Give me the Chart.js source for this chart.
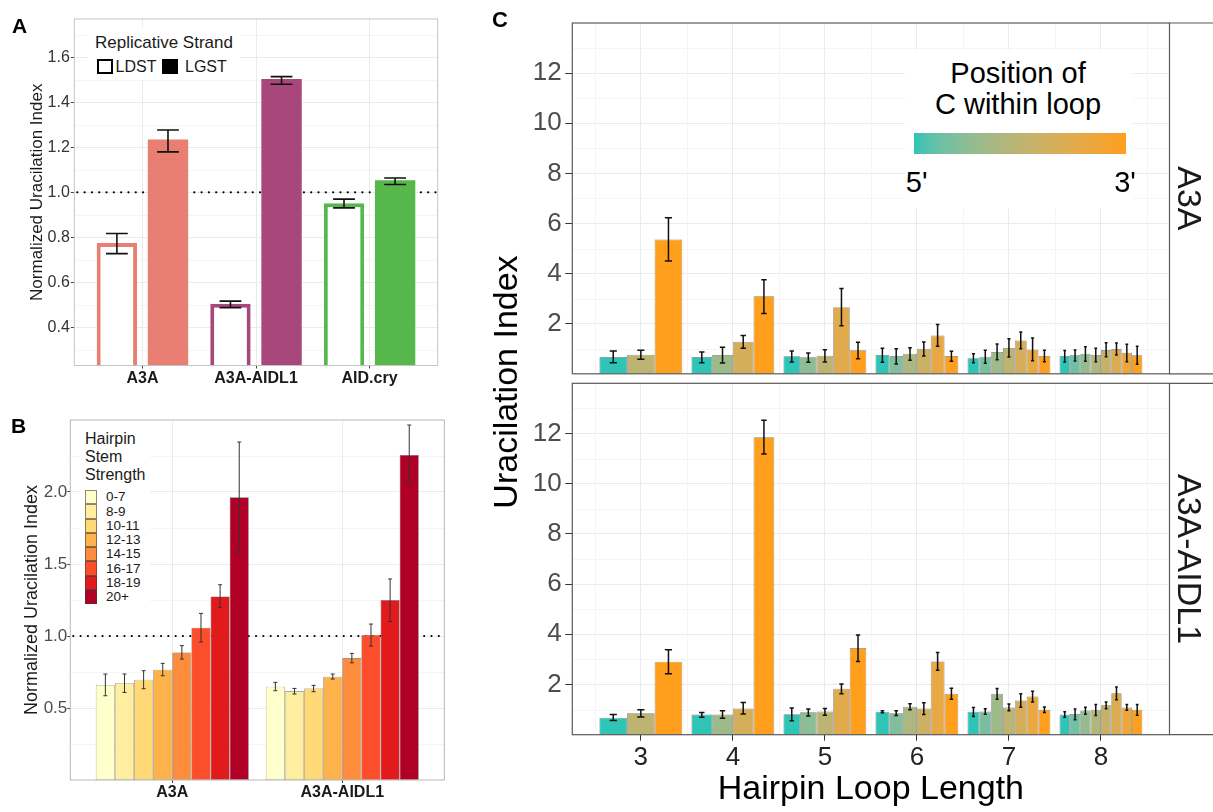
<!DOCTYPE html>
<html>
<head>
<meta charset="utf-8">
<title>Uracilation index figure</title>
<script src="https://cdn.jsdelivr.net/npm/chart.js@4.4.1/dist/chart.umd.min.js"></script>
<style>
  html, body { margin:0; padding:0; background:#ffffff; }
  body { width:1213px; height:812px; position:relative; overflow:hidden; font-family:"Liberation Sans", Arial, Helvetica, sans-serif; }
  canvas { position:absolute; }
  .t { position:absolute; white-space:nowrap; line-height:1; }
  .box { position:absolute; box-sizing:border-box; }
</style>
</head>
<body>
<canvas id="chartA" width="450" height="400" style="left:0px;top:0px"></canvas>
<canvas id="chartB" width="450" height="412" style="left:0px;top:400px"></canvas>
<canvas id="chartC1" width="733" height="380" style="left:480px;top:0px"></canvas>
<canvas id="chartC2" width="733" height="432" style="left:480px;top:380px"></canvas>
<script>
// ---------------- DATA ----------------
// Panel A
const aCategories = ['A3A', 'A3A-AIDL1', 'AID.cry'];
const aStrands = ['LDST', 'LGST'];
const aLdst = [0.775, 0.505, 0.952];
const aLdstLow = [0.728, 0.488, 0.931];
const aLdstHigh = [0.817, 0.517, 0.970];
const aLgst = [1.235, 1.503, 1.054];
const aLgstLow = [1.180, 1.480, 1.035];
const aLgstHigh = [1.277, 1.514, 1.064];
const aColors = ['#E87F72', '#A8477C', '#56B84B'];
const aYTicks = [0.4, 0.6, 0.8, 1.0, 1.2, 1.4, 1.6];
const aYMinor = [0.3, 0.5, 0.7, 0.9, 1.1, 1.3, 1.5, 1.7];

// Panel B
const bCategories = ['A3A', 'A3A-AIDL1'];
const bStrength = ['0-7', '8-9', '10-11', '12-13', '14-15', '16-17', '18-19', '20+'];
const bColors = ['#FFFFCC', '#FFEDA0', '#FED976', '#FEB24C', '#FD8D3C', '#FC4E2A', '#E31A1C', '#B10026'];
const bA3A = [0.660, 0.674, 0.697, 0.766, 0.886, 1.058, 1.275, 1.963];
const bA3ALow = [0.585, 0.608, 0.634, 0.724, 0.840, 0.958, 1.199, 1.578];
const bA3AHigh = [0.736, 0.736, 0.759, 0.810, 0.933, 1.157, 1.356, 2.347];
const bAIDL1 = [0.648, 0.616, 0.636, 0.717, 0.847, 1.007, 1.250, 2.257];
const bAIDL1Low = [0.620, 0.597, 0.613, 0.701, 0.814, 0.930, 1.101, 2.056];
const bAIDL1High = [0.678, 0.636, 0.657, 0.736, 0.879, 1.083, 1.396, 2.465];
const bYTicks = [0.5, 1.0, 1.5, 2.0];
const bYMinor = [0.25, 0.75, 1.25, 1.75, 2.25];

// Panel C (one inner list per loop length, one value per C position 5'->3')
const cLoopLengths = [3, 4, 5, 6, 7, 8];
const cFacets = ['A3A', 'A3A-AIDL1'];
const cA3AMean = [
  [0.67, 0.76, 5.36],
  [0.67, 0.75, 1.28, 3.09],
  [0.70, 0.66, 0.72, 2.66, 0.94],
  [0.75, 0.71, 0.80, 1.00, 1.53, 0.71],
  [0.62, 0.68, 0.87, 1.03, 1.33, 0.97, 0.71],
  [0.71, 0.76, 0.80, 0.75, 0.95, 0.99, 0.84, 0.74]
];
const cA3ALow = [
  [0.445, 0.58, 4.50],
  [0.445, 0.43, 1.02, 2.41],
  [0.47, 0.46, 0.47, 1.92, 0.60],
  [0.46, 0.39, 0.54, 0.71, 1.10, 0.50],
  [0.445, 0.42, 0.565, 0.67, 1.00, 0.525, 0.485],
  [0.47, 0.51, 0.50, 0.485, 0.68, 0.75, 0.485, 0.38]
];
const cA3AHigh = [
  [0.91, 0.94, 6.23],
  [0.87, 1.06, 1.53, 3.75],
  [0.91, 0.83, 0.96, 3.40, 1.26],
  [1.02, 1.00, 1.04, 1.27, 1.97, 0.90],
  [0.80, 0.94, 1.19, 1.40, 1.67, 1.43, 0.94],
  [0.93, 0.95, 1.08, 1.02, 1.24, 1.23, 1.18, 1.10]
];
const cAIDL1Mean = [
  [0.67, 0.85, 2.91],
  [0.80, 0.80, 1.04, 11.85],
  [0.81, 0.89, 0.92, 1.83, 3.45],
  [0.91, 0.85, 1.11, 1.04, 2.92, 1.63],
  [0.91, 0.92, 1.63, 1.08, 1.36, 1.52, 0.99],
  [0.80, 0.82, 0.96, 0.99, 1.17, 1.65, 1.08, 0.99]
];
const cAIDL1Low = [
  [0.57, 0.71, 2.43],
  [0.70, 0.66, 0.82, 11.18],
  [0.56, 0.75, 0.77, 1.63, 2.92],
  [0.87, 0.76, 0.99, 0.80, 2.57, 1.41],
  [0.73, 0.81, 1.41, 0.95, 1.09, 1.30, 0.88],
  [0.70, 0.60, 0.81, 0.76, 1.03, 1.39, 0.97, 0.77]
];
const cAIDL1High = [
  [0.80, 0.99, 3.38],
  [0.88, 0.95, 1.28, 12.53],
  [1.06, 1.02, 1.04, 2.02, 3.97],
  [0.95, 0.95, 1.23, 1.27, 3.27, 1.85],
  [1.08, 1.03, 1.84, 1.22, 1.63, 1.73, 1.10],
  [0.91, 1.02, 1.09, 1.20, 1.30, 1.90, 1.20, 1.20]
];
const cYTicks = [2, 4, 6, 8, 10, 12];
const cYMinor = [1, 3, 5, 7, 9, 11, 13];
const cXMinor = [2.5, 3.5, 4.5, 5.5, 6.5, 7.5, 8.5];
const cLowColor = '#2EC4B6';
const cHighColor = '#FF9F1C';

// ---------------- HELPERS ----------------
const FONT = '"Liberation Sans", Arial, Helvetica, sans-serif';
Chart.defaults.font.family = FONT;
Chart.defaults.animation = false;
Chart.defaults.responsive = false;

function hexToRgb(h) { return [parseInt(h.slice(1, 3), 16), parseInt(h.slice(3, 5), 16), parseInt(h.slice(5, 7), 16)]; }
function toLin(c) { c /= 255; return c <= 0.04045 ? c / 12.92 : Math.pow((c + 0.055) / 1.055, 2.4); }
function fromLin(c) { const v = c <= 0.0031308 ? 12.92 * c : 1.055 * Math.pow(c, 1 / 2.4) - 0.055; return Math.max(0, Math.min(255, Math.round(v * 255))); }
function rgbToLab(rgb) {
  const [r, g, b] = rgb.map(toLin);
  const x = (0.4124564 * r + 0.3575761 * g + 0.1804375 * b) / 0.95047;
  const y = (0.2126729 * r + 0.7151522 * g + 0.0721750 * b);
  const z = (0.0193339 * r + 0.1191920 * g + 0.9503041 * b) / 1.08883;
  const f = t => t > 0.008856 ? Math.cbrt(t) : 7.787 * t + 16 / 116;
  const fx = f(x), fy = f(y), fz = f(z);
  return [116 * fy - 16, 500 * (fx - fy), 200 * (fy - fz)];
}
function labToRgb(lab) {
  const [L, a, b] = lab;
  const fy = (L + 16) / 116, fx = fy + a / 500, fz = fy - b / 200;
  const fi = t => { const t3 = t * t * t; return t3 > 0.008856 ? t3 : (t - 16 / 116) / 7.787; };
  const x = fi(fx) * 0.95047, y = fi(fy), z = fi(fz) * 1.08883;
  return [
    fromLin(3.2404542 * x - 1.5371385 * y - 0.4985314 * z),
    fromLin(-0.9692660 * x + 1.8760108 * y + 0.0415560 * z),
    fromLin(0.0556434 * x - 0.2040259 * y + 1.0572252 * z)
  ];
}
const labLow = rgbToLab(hexToRgb(cLowColor));
const labHigh = rgbToLab(hexToRgb(cHighColor));
function positionColor(t) {
  const lab = labLow.map((v, i) => v + (labHigh[i] - v) * t);
  const [r, g, b] = labToRgb(lab);
  return `rgb(${r},${g},${b})`;
}

function fixSize(size) {
  return (scale) => {
    if (scale.isHorizontal()) scale.height = size; else scale.width = size;
    scale.paddingLeft = 0; scale.paddingRight = 0; scale.paddingTop = 0; scale.paddingBottom = 0;
  };
}
function useTicks(values) { return (scale) => { scale.ticks = values.map(v => ({ value: v })); }; }

const panelDecor = {
  id: 'panelDecor',
  beforeDatasetsDraw(chart, args, o) {
    const { ctx, chartArea: ca, scales: { x, y } } = chart;
    ctx.save();
    ctx.beginPath();
    ctx.rect(ca.left, ca.top, ca.right - ca.left, ca.bottom - ca.top);
    ctx.clip();
    ctx.strokeStyle = o.minorColor || '#F3F3F3';
    ctx.lineWidth = o.minorWidth || 0.8;
    (o.minorX || []).forEach(v => {
      const px = Math.round(x.getPixelForValue(v)) + 0.5;
      ctx.beginPath(); ctx.moveTo(px, ca.top); ctx.lineTo(px, ca.bottom); ctx.stroke();
    });
    (o.minorY || []).forEach(v => {
      const py = Math.round(y.getPixelForValue(v)) + 0.5;
      ctx.beginPath(); ctx.moveTo(ca.left, py); ctx.lineTo(ca.right, py); ctx.stroke();
    });
    if (o.refLine !== undefined && o.refLine !== null) {
      const py = y.getPixelForValue(o.refLine);
      ctx.strokeStyle = '#000';
      ctx.lineWidth = 2.2;
      ctx.lineCap = 'round';
      ctx.setLineDash([0.01, 7.3]);
      ctx.beginPath(); ctx.moveTo(ca.left + 3, py); ctx.lineTo(ca.right, py); ctx.stroke();
    }
    ctx.restore();
  },
  afterDatasetsDraw(chart, args, o) {
    const { ctx, scales: { y } } = chart;
    const e = o.err;
    if (!e) return;
    ctx.save();
    ctx.strokeStyle = e.color; ctx.lineWidth = e.width; ctx.lineCap = 'butt';
    chart.data.datasets.forEach((ds, i) => {
      if (!ds.errLow) return;
      const meta = chart.getDatasetMeta(i);
      meta.data.forEach((el, j) => {
        if (ds.data[j] === null || ds.data[j] === undefined || ds.errLow[j] === null) return;
        const yl = y.getPixelForValue(ds.errLow[j]);
        const yh = y.getPixelForValue(ds.errHigh[j]);
        const half = Math.max(e.capMin, el.width * e.capFrac);
        ctx.beginPath();
        ctx.moveTo(el.x, yl); ctx.lineTo(el.x, yh);
        ctx.moveTo(el.x - half, yl); ctx.lineTo(el.x + half, yl);
        ctx.moveTo(el.x - half, yh); ctx.lineTo(el.x + half, yh);
        ctx.stroke();
      });
    });
    ctx.restore();
  },
  afterDraw(chart, args, o) {
    const { ctx, chartArea: ca } = chart;
    ctx.save();
    ctx.strokeStyle = o.borderColor || '#BDBDBD';
    ctx.lineWidth = o.borderWidth || 1;
    ctx.strokeRect(ca.left, ca.top, ca.right - ca.left, ca.bottom - ca.top);
    if (o.strip) {
      ctx.beginPath();
      ctx.moveTo(ca.right, ca.top); ctx.lineTo(chart.width + 2, ca.top);
      ctx.moveTo(ca.right, ca.bottom); ctx.lineTo(chart.width + 2, ca.bottom);
      ctx.stroke();
      ctx.translate(o.stripBaselineX, (ca.top + ca.bottom) / 2);
      ctx.rotate(Math.PI / 2);
      ctx.fillStyle = '#1a1a1a';
      ctx.font = `${o.stripSize}px ${FONT}`;
      ctx.textAlign = 'center';
      ctx.textBaseline = 'alphabetic';
      ctx.fillText(o.strip, 0, 0);
    }
    ctx.restore();
  }
};

const gridMajor = { color: '#EBEBEB', lineWidth: 1, offset: false };

// ---------------- PANEL A ----------------
new Chart(document.getElementById('chartA'), {
  type: 'bar',
  data: {
    labels: aCategories.map((_, i) => i + 1),
    datasets: [
      { label: aStrands[0], data: aLdst, errLow: aLdstLow, errHigh: aLdstHigh,
        backgroundColor: '#ffffff', borderColor: aColors, borderWidth: 4, borderSkipped: false,
        categoryPercentage: 0.9, barPercentage: 0.79, clip: 0 },
      { label: aStrands[1], data: aLgst, errLow: aLgstLow, errHigh: aLgstHigh,
        backgroundColor: aColors, borderWidth: 0,
        categoryPercentage: 0.9, barPercentage: 0.79, clip: 0 }
    ]
  },
  options: {
    events: [],
    layout: { padding: { left: 0, top: 19, right: 12.3, bottom: 0 } },
    plugins: {
      legend: { display: false }, tooltip: { enabled: false },
      panelDecor: { minorY: aYMinor, refLine: 1.0, borderColor: '#C4C4C4', borderWidth: 1,
        err: { color: '#111', width: 1.6, capFrac: 0.27, capMin: 2 } }
    },
    scales: {
      x: { type: 'linear', offset: false, min: 0.4, max: 3.6, bounds: 'data',
        afterBuildTicks: useTicks(aCategories.map((_, i) => i + 1)), afterFit: fixSize(34.5),
        grid: { ...gridMajor, drawTicks: true, tickLength: 3, tickColor: '#444', tickWidth: 1 },
        border: { display: false },
        ticks: { callback: v => aCategories[Math.round(v) - 1], font: { size: 16, weight: 'bold' }, color: '#1a1a1a', padding: 0, maxRotation: 0, autoSkip: false } },
      y: { min: 0.231, max: 1.77, bounds: 'data',
        afterBuildTicks: useTicks(aYTicks), afterFit: fixSize(74.3),
        grid: { ...gridMajor, drawTicks: true, tickLength: 3.5, tickColor: '#444', tickWidth: 1 },
        border: { display: false },
        ticks: { callback: v => v.toFixed(1), font: { size: 16 }, color: '#333', padding: 1 },
        title: { display: true, text: 'Normalized Uracilation Index', font: { size: 17 }, color: '#1a1a1a', padding: { top: 27.2, bottom: 0 } } }
    }
  },
  plugins: [panelDecor]
});

// ---------------- PANEL B ----------------
new Chart(document.getElementById('chartB'), {
  type: 'bar',
  data: {
    labels: bCategories.map((_, i) => i + 1),
    datasets: bStrength.map((s, k) => ({
      label: s,
      data: [bA3A[k], bAIDL1[k]],
      errLow: [bA3ALow[k], bAIDL1Low[k]],
      errHigh: [bA3AHigh[k], bAIDL1High[k]],
      backgroundColor: bColors[k],
      borderColor: 'rgba(60,60,60,0.75)', borderWidth: 0.6, borderSkipped: false,
      categoryPercentage: 0.9, barPercentage: 1.0, clip: 0
    }))
  },
  options: {
    events: [],
    layout: { padding: { left: 0, top: 20, right: 5.7, bottom: 0 } },
    plugins: {
      legend: { display: false }, tooltip: { enabled: false },
      panelDecor: { minorY: bYMinor, refLine: 1.0, borderColor: '#B8B8B8', borderWidth: 1,
        err: { color: '#333', width: 1, capFrac: 0.105, capMin: 1.5 } }
    },
    scales: {
      x: { type: 'linear', offset: false, min: 0.4, max: 2.6, bounds: 'data',
        afterBuildTicks: useTicks(bCategories.map((_, i) => i + 1)), afterFit: fixSize(32),
        grid: { ...gridMajor, drawTicks: true, tickLength: 3, tickColor: '#444', tickWidth: 1 },
        border: { display: false },
        ticks: { callback: v => bCategories[Math.round(v) - 1], font: { size: 16, weight: 'bold' }, color: '#1a1a1a', padding: 0, maxRotation: 0, autoSkip: false } },
      y: { min: 0, max: 2.5, bounds: 'data',
        afterBuildTicks: useTicks(bYTicks), afterFit: fixSize(70.3),
        grid: { ...gridMajor, drawTicks: true, tickLength: 3, tickColor: '#444', tickWidth: 1 },
        border: { display: false },
        ticks: { callback: v => v.toFixed(1), font: { size: 17 }, color: '#4D4D4D', padding: 0 },
        title: { display: true, text: 'Normalized Uracilation Index', font: { size: 18 }, color: '#1a1a1a', padding: { top: 21.3, bottom: 0 } } }
    }
  },
  plugins: [panelDecor]
});

// ---------------- PANEL C ----------------
const maxPositions = Math.max(...cLoopLengths);
function buildC(means, lows, highs) {
  const ds = [];
  for (let k = 0; k < maxPositions; k++) {
    ds.push({
      label: 'C position ' + (k + 1),
      data: cLoopLengths.map((n, j) => k < n ? means[j][k] : null),
      errLow: cLoopLengths.map((n, j) => k < n ? lows[j][k] : null),
      errHigh: cLoopLengths.map((n, j) => k < n ? highs[j][k] : null),
      backgroundColor: (ctx) => positionColor(k / (cLoopLengths[ctx.dataIndex] - 1)),
      borderColor: 'rgba(40,40,40,0.6)', borderWidth: 0.7, borderSkipped: false,
      skipNull: true, categoryPercentage: 0.9, barPercentage: 1.0, clip: 0
    });
  }
  return ds;
}
function cOptions(isBottom, stripText) {
  return {
    events: [],
    layout: { padding: isBottom ? { left: 0, top: 3.3, right: 43.5, bottom: 0 } : { left: 0, top: 23, right: 43.5, bottom: 6.2 } },
    plugins: {
      legend: { display: false }, tooltip: { enabled: false },
      panelDecor: { minorX: cXMinor, minorY: cYMinor, borderColor: '#5A5A5A', borderWidth: 1.2,
        err: { color: '#111', width: 1.5, capFrac: 0.13, capMin: 1.4 },
        strip: stripText, stripBaselineX: 698.3, stripSize: 34 }
    },
    scales: {
      x: { type: 'linear', offset: false, min: 2.255, max: 8.745, bounds: 'data',
        afterBuildTicks: useTicks(cLoopLengths), afterFit: fixSize(isBottom ? 77.3 : 0),
        grid: { ...gridMajor, drawTicks: isBottom, tickLength: 6, tickColor: '#333', tickWidth: 1 },
        border: { display: false },
        ticks: { display: isBottom, callback: v => String(v), font: { size: 26 }, color: '#222', padding: 1.4, maxRotation: 0, autoSkip: false },
        title: { display: isBottom, text: 'Hairpin Loop Length', font: { size: 34 }, color: '#000', padding: { top: 0, bottom: 1.7 } } },
      y: { min: 0, max: 14, bounds: 'data',
        afterBuildTicks: useTicks(cYTicks), afterFit: fixSize(92.3),
        grid: { ...gridMajor, drawTicks: true, tickLength: 7, tickColor: '#333', tickWidth: 1 },
        border: { display: false },
        ticks: { callback: v => String(v), font: { size: 26 }, color: '#4D4D4D', padding: 3.6 } }
    }
  };
}
new Chart(document.getElementById('chartC1'), {
  type: 'bar',
  data: { labels: cLoopLengths, datasets: buildC(cA3AMean, cA3ALow, cA3AHigh) },
  options: cOptions(false, cFacets[0]),
  plugins: [panelDecor]
});
new Chart(document.getElementById('chartC2'), {
  type: 'bar',
  data: { labels: cLoopLengths, datasets: buildC(cAIDL1Mean, cAIDL1Low, cAIDL1High) },
  options: cOptions(true, cFacets[1]),
  plugins: [panelDecor]
});

// ---------------- TEXT / LEGENDS (HTML overlays) ----------------
function addText(txt, x, baseline, size, opts = {}) {
  const d = document.createElement('div');
  d.className = 't';
  d.textContent = txt;
  d.style.left = x + 'px';
  d.style.top = (baseline - 0.8465 * size) + 'px';
  d.style.fontSize = size + 'px';
  d.style.fontWeight = opts.weight || 'normal';
  d.style.color = opts.color || '#1a1a1a';
  if (opts.center) d.style.transform = 'translateX(-50%)';
  document.body.appendChild(d);
  return d;
}
function addBox(x, y, w, h, css) {
  const d = document.createElement('div');
  d.className = 'box';
  d.style.left = x + 'px'; d.style.top = y + 'px';
  d.style.width = w + 'px'; d.style.height = h + 'px';
  d.style.cssText += css;
  document.body.appendChild(d);
  return d;
}

// Panel letters
addText('A', 12, 33, 21, { weight: 'bold', color: '#000' });
addText('B', 11, 433, 21, { weight: 'bold', color: '#000' });
addText('C', 492, 27.8, 22, { weight: 'bold', color: '#000' });

// Panel A legend
addBox(88, 28, 152, 52, 'background:#fff;');
addText('Replicative Strand', 95, 48.7, 17);
addBox(97, 59.3, 16, 15, 'border:2.6px solid #000;background:#fff;');
addText(aStrands[0], 115.5, 72.7, 16);
addBox(162, 59.3, 16, 15, 'background:#000;');
addText(aStrands[1], 185, 72.7, 16);

// Panel B legend
addBox(80, 428, 70, 182, 'background:#fff;');
addText('Hairpin', 85, 445, 16);
addText('Stem', 85, 462.7, 16);
addText('Strength', 85, 480.3, 16);
bStrength.forEach((s, k) => {
  const top = 490 + k * 14.25;
  addBox(85, top, 12, 14.25, `background:${bColors[k]};border:0.6px solid rgba(60,60,60,0.6);`);
  addText(s, 106, top + 7.1 + 4.8, 13.5);
});

// Panel C legend
addBox(905, 50, 228, 158, 'background:#fff;');
addText('Position of', 1018, 84, 29, { center: true, color: '#000' });
addText('C within loop', 1018, 115, 29, { center: true, color: '#000' });
const stops = [];
for (let i = 0; i <= 20; i++) stops.push(`${positionColor(i / 20)} ${(i * 5)}%`);
addBox(914.3, 133.3, 211.4, 21, `background:linear-gradient(to right, ${stops.join(', ')});`);
addText("5'", 916.7, 192.7, 29, { center: true, color: '#000' });
addText("3'", 1125, 192.7, 29, { center: true, color: '#000' });

// Panel C shared y title
const yt = document.createElement('div');
yt.className = 't';
yt.textContent = 'Uracilation Index';
yt.style.cssText += 'left:504.5px;top:381.7px;font-size:34px;color:#000;transform:translate(-50%,-50%) rotate(-90deg);';
document.body.appendChild(yt);
</script>
</body>
</html>
